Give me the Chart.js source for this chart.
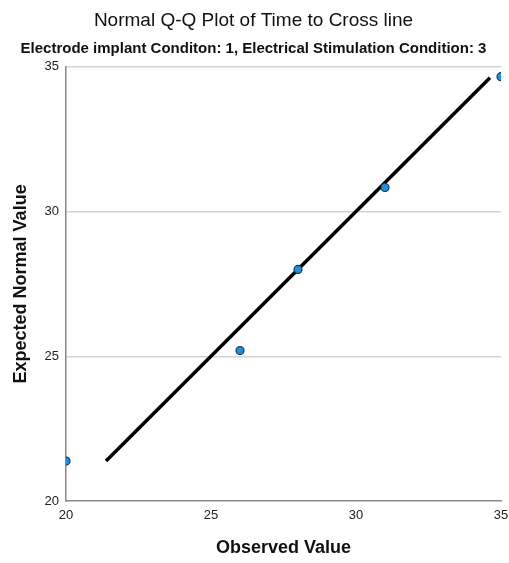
<!DOCTYPE html>
<html>
<head>
<meta charset="utf-8">
<script src="https://cdn.jsdelivr.net/npm/chart.js@4"></script>
<style>
  html, body { margin: 0; padding: 0; background: #fff; }
  #wrap { width: 509px; height: 563px; }
</style>
</head>
<body>
<div id="wrap"><canvas id="qq" width="509" height="563"></canvas></div>
<script>
// Observed values and their expected normal quantiles
const observed = [20, 26, 28, 31, 35];
const expected = [21.38, 25.2, 28.0, 30.83, 34.66];

// Reference line end points (x = y)
const lineX = [21.38, 34.62];
const lineY = [21.38, 34.62];

const xTicks = [20, 25, 30, 35];
const yTicks = [20, 25, 30, 35];

const FONT = "'Liberation Sans', Arial, sans-serif";

const points = observed.map((v, i) => ({ x: v, y: expected[i] }));
const refLine = lineX.map((v, i) => ({ x: v, y: lineY[i] }));

new Chart(document.getElementById("qq").getContext("2d"), {
  type: "scatter",
  data: {
    datasets: [
      {
        type: "line",
        data: refLine,
        borderColor: "#000",
        borderWidth: 3.5,
        pointRadius: 0,
        fill: false,
        order: 2,
      },
      {
        data: points,
        backgroundColor: "#1e90e0",
        borderColor: "#1b3550",
        borderWidth: 1.2,
        pointRadius: 4,
        order: 1,
      },
    ],
  },
  options: {
    responsive: false,
    animation: false,
    layout: { padding: { left: 6, right: 8, top: 4, bottom: 0 } },
    scales: {
      x: {
        type: "linear",
        min: 20,
        max: 35,
        afterBuildTicks: (s) => { s.ticks = xTicks.map((v) => ({ value: v })); },
        afterFit: (s) => { s.height = 62; s.paddingLeft = 0; s.paddingRight = 0; },
        grid: { display: false, drawTicks: false },
        border: { color: "#888", width: 1.5 },
        ticks: { color: "#222", font: { family: FONT, size: 13 }, padding: 7 },
        title: {
          display: true,
          text: "Observed Value",
          color: "#111",
          font: { family: FONT, size: 18, weight: "bold" },
          padding: { top: 14 },
        },
      },
      y: {
        type: "linear",
        min: 20,
        max: 35,
        afterBuildTicks: (s) => { s.ticks = yTicks.map((v) => ({ value: v })); },
        afterFit: (s) => { s.width = 60; s.paddingTop = 0; s.paddingBottom = 0; },
        grid: { color: (c) => (c.tick.value === 20 ? "rgba(0,0,0,0)" : "#d4d4d4"), lineWidth: 1.5, drawTicks: false },
        border: { color: "#888", width: 1.5 },
        ticks: { color: "#222", font: { family: FONT, size: 13 }, padding: 7 },
        title: {
          display: true,
          text: "Expected Normal Value",
          color: "#111",
          font: { family: FONT, size: 18, weight: "bold" },
          padding: { bottom: 8 },
        },
      },
    },
    plugins: {
      legend: { display: false },
      tooltip: { enabled: false },
      title: {
        display: true,
        text: "Normal Q-Q Plot of Time to Cross line",
        color: "#111",
        font: { family: FONT, size: 19, weight: "normal" },
        padding: { top: 5, bottom: 8 },
      },
      subtitle: {
        display: true,
        text: "Electrode implant Conditon: 1, Electrical Stimulation Condition: 3",
        color: "#111",
        font: { family: FONT, size: 15, weight: "bold" },
        padding: { top: 0, bottom: 9 },
      },
    },
  },
});
</script>
</body>
</html>
